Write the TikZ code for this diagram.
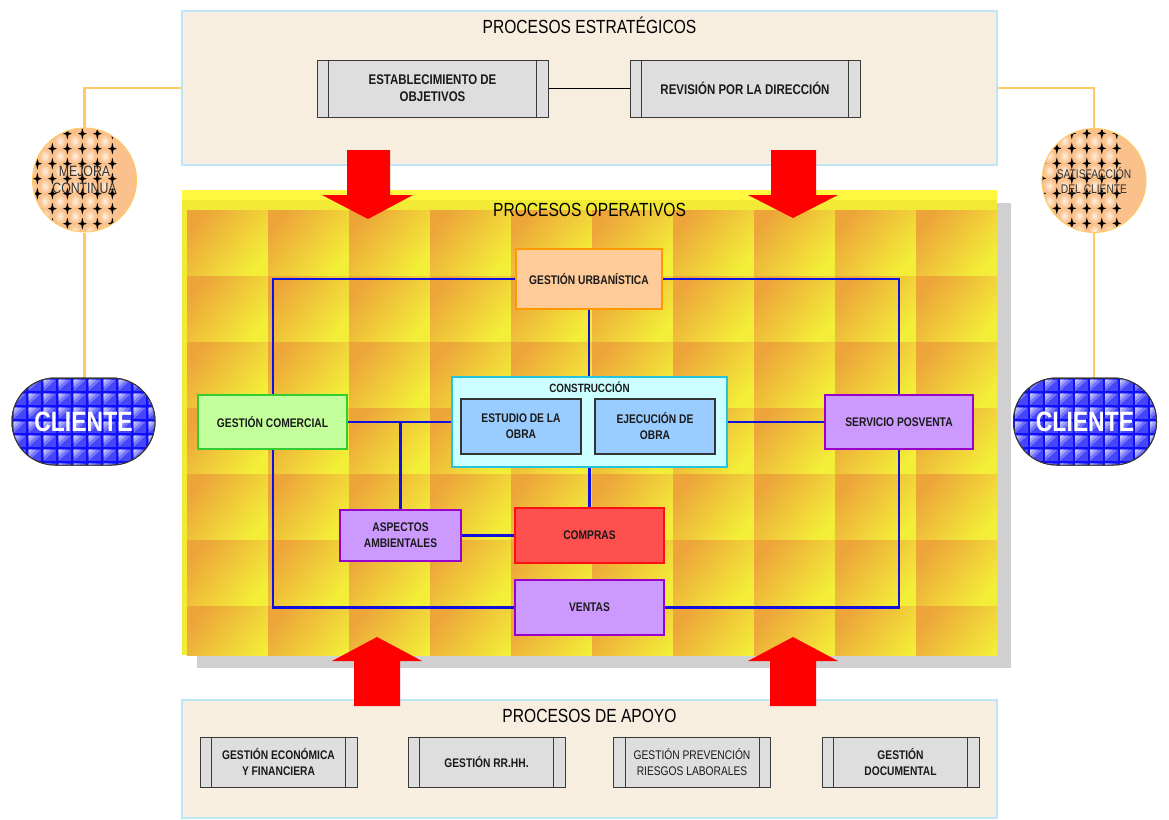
\documentclass[tikz,border=0pt]{standalone}
\usepackage{fontspec}
\setmainfont[FakeStretch=0.82]{Liberation Sans}

\definecolor{panelfill}{HTML}{F8EEE0}
\definecolor{panelline}{HTML}{BDE6F7}
\definecolor{ppfill}{HTML}{DEDEDE}
\definecolor{ppline}{HTML}{3A3A3A}
\definecolor{shadowgray}{HTML}{D0D0D0}
\definecolor{yellowbase}{HTML}{F2EB36}
\definecolor{yellowbright}{HTML}{FFF740}
\definecolor{tileA}{HTML}{EDA53A}
\definecolor{tileM}{HTML}{F0CC38}
\definecolor{tileB}{HTML}{F3EE38}
\definecolor{arrowred}{HTML}{FF0000}
\definecolor{sideorange}{HTML}{FFC966}
\definecolor{peach}{HTML}{FAC18C}
\definecolor{bubble}{HTML}{FFF1E2}
\definecolor{clblue}{HTML}{1010F8}
\definecolor{cllight}{HTML}{C8C8FF}
\definecolor{linkblue}{HTML}{1010E0}
\definecolor{guFill}{HTML}{FFCC99}
\definecolor{guLine}{HTML}{FF9900}
\definecolor{consFill}{HTML}{CCFFFF}
\definecolor{consLine}{HTML}{22C4E0}
\definecolor{obraFill}{HTML}{99CCFF}
\definecolor{obraLine}{HTML}{333333}
\definecolor{gcFill}{HTML}{C3FF9A}
\definecolor{gcLine}{HTML}{33CC33}
\definecolor{violetFill}{HTML}{CC99FF}
\definecolor{violetLine}{HTML}{9900CC}
\definecolor{coFill}{HTML}{FF5050}
\definecolor{coLine}{HTML}{FF1010}
\definecolor{textdark}{HTML}{1A1A1A}
\definecolor{textgray}{HTML}{333333}

\pgfdeclarelayer{tiles}
\pgfdeclarelayer{links}
\pgfsetlayers{tiles,links,main}

\begin{document}
\begin{tikzpicture}[x=1pt,y=-1pt,
  panel/.style={draw=panelline,line width=1.5,fill=panelfill,minimum width=815,inner sep=0},
  paneltitle/.style={font=\fontsize{19}{22}\selectfont,text=black,inner sep=0},
  ppbox/.style={rectangle,draw=ppline,line width=1,fill=ppfill,inner sep=0,align=center,
    text=textdark,font=\bfseries\fontsize{12.5}{16}\selectfont,minimum width=157,minimum height=50},
  opbox/.style={rectangle,line width=2,inner sep=0,align=center,text=textdark,
    font=\bfseries\fontsize{12.5}{16}\selectfont},
  violetbox/.style={opbox,draw=violetLine,fill=violetFill},
  obrabox/.style={opbox,line width=1.2,draw=obraLine,fill=obraFill,minimum width=120,minimum height=55},
  blueline/.style={draw=linkblue,line width=2.2},
  sideline/.style={draw=sideorange,line width=2.8},
  bigarrow/.style={fill=arrowred},
  circ/.style={circle,draw=sideorange,line width=1,fill=peach,minimum size=104,inner sep=0,
    align=center,text=textgray,
    path picture={
      \begin{scope}[shift={(path picture bounding box.center)}]
        \foreach \i in {-4,...,3} \foreach \j in {-4,...,3}
          \shade[inner color=bubble,outer color=peach] (\i*15+7.5,\j*15+7.5) ellipse (5.5 and 7);
        \foreach \i in {-4,...,4} \foreach \j in {-4,...,4}
          \fill[black] (\i*15,\j*15) +(0,-6) -- +(1.2,-1.2) -- +(4.5,0) -- +(1.2,1.2)
            -- +(0,6) -- +(-1.2,1.2) -- +(-4.5,0) -- +(-1.2,-1.2) -- cycle;
      \end{scope}}},
  cliente/.style={rectangle,rounded corners=43,draw=black!80,line width=1,fill=clblue,
    minimum width=143,minimum height=87,inner sep=0},
  clienttext/.style={text=white,inner sep=0,font=\bfseries\fontsize{28}{30}\selectfont}
]
\useasboundingbox (0,0) rectangle (1169,819);

% ---------- operational area: shadow and tiled background ----------
\begin{pgfonlayer}{tiles}
  \fill[shadowgray] (197,203) rectangle (1011,668);
  \fill[yellowbase] (182,190) rectangle (997,655);
  \fill[yellowbright] (182,190) rectangle (997,200);
  \begin{scope}
    \clip (187,210) rectangle (997,655);
    \foreach \i in {0,...,9} \foreach \j in {0,...,6}
      \shade[top color=tileA,middle color=tileM,bottom color=tileB,shading angle=50]
        (187+81*\i,210+66*\j) rectangle +(81,66);
  \end{scope}
\end{pgfonlayer}

% ---------- strategic processes ----------
\node[panel,minimum height=154] (strat) at (589.5,88) {};
\node[paneltitle] (t1) at (589.5,25) {PROCESOS ESTRATÉGICOS};
\node[ppbox,minimum width=231,minimum height=57,font=\bfseries\fontsize{14}{17}\selectfont]
  (eo) at (432.5,88.5) {ESTABLECIMIENTO DE\\OBJETIVOS};
\node[ppbox,minimum width=230,minimum height=57,font=\bfseries\fontsize{14}{17}\selectfont]
  (rd) at (745,88.5) {REVISIÓN POR LA DIRECCIÓN};
\draw[black,line width=1] (eo.east) -- (rd.west);

% ---------- support processes ----------
\node[panel,minimum height=118] (apoyo) at (589.5,759) {};
\node[paneltitle] (t3) at (589.5,716) {PROCESOS DE APOYO};
\node[ppbox] (ge) at (278.5,762) {GESTIÓN ECONÓMICA\\Y FINANCIERA};
\node[ppbox] (rh) at (486.5,762) {GESTIÓN RR.HH.};
\node[ppbox,font=\fontsize{12.5}{16}\selectfont] (pr) at (692,762) {GESTIÓN PREVENCIÓN\\RIESGOS LABORALES};
\node[ppbox] (gd) at (900.5,762) {GESTIÓN\\DOCUMENTAL};

% side bars of the predefined-process boxes
\foreach \n in {eo,rd,ge,rh,pr,gd} {
  \draw[ppline,line width=1] ([xshift=12]\n.north west) -- ([xshift=12]\n.south west);
  \draw[ppline,line width=1] ([xshift=-12]\n.north east) -- ([xshift=-12]\n.south east);
}

% ---------- operational processes ----------
\node[paneltitle] (t2) at (589.5,210) {PROCESOS OPERATIVOS};
\node[opbox,draw=guLine,fill=guFill,minimum width=146,minimum height=60] (gu) at (589,279) {GESTIÓN URBANÍSTICA};
\node[opbox,draw=consLine,fill=consFill,minimum width=275,minimum height=90] (cons) at (589.5,422) {};
\node[text=textdark,font=\bfseries\fontsize{12}{14}\selectfont,inner sep=0] (ctitle) at (589.5,387.5) {CONSTRUCCIÓN};
\node[obrabox] (eso) at (521,426.5) {ESTUDIO DE LA\\OBRA};
\node[obrabox] (eje) at (655,426.5) {EJECUCIÓN DE\\OBRA};
\node[opbox,draw=gcLine,fill=gcFill,minimum width=149,minimum height=54] (gc) at (272.5,422) {GESTIÓN COMERCIAL};
\node[violetbox,minimum width=148,minimum height=54] (sp) at (899,422) {SERVICIO POSVENTA};
\node[violetbox,minimum width=121,minimum height=51] (aa) at (400.5,535.5) {ASPECTOS\\AMBIENTALES};
\node[opbox,draw=coLine,fill=coFill,minimum width=149,minimum height=55] (co) at (589.5,535.5) {COMPRAS};
\node[violetbox,minimum width=149,minimum height=55] (ve) at (589.5,607.5) {VENTAS};
\coordinate (lx) at (273,607.5);

\begin{pgfonlayer}{links}
  \draw[blueline] (gu.west) -- (gu.west -| lx) -- (lx) -- (ve.west);
  \draw[blueline] (gu.east) -| (sp.north);
  \draw[blueline] (sp.south) |- (ve.east);
  \draw[blueline] (gu.south) -- (gu.south |- cons.north);
  \draw[blueline] (cons.south) -- (cons.south |- co.north);
  \draw[blueline] (gc.east) -- (cons.west);
  \draw[blueline] (aa.north) -- (aa.north |- gc.east);
  \draw[blueline] (aa.east) -- (co.west);
  \draw[blueline] (cons.east) -- (sp.west);
\end{pgfonlayer}

% ---------- improvement loop ----------
\node[circ,font=\fontsize{15}{17}\selectfont] (mc) at (84.5,180) {MEJORA\\CONTINUA};
\node[circ,font=\fontsize{12.5}{15}\selectfont] (sc) at (1094,180.5) {SATISFACCIÓN\\DEL CLIENTE};

% ---------- customers: blue tiled capsules ----------
\node[cliente] (clL) at (83.5,421.5) {};
\node[cliente] (clR) at (1085,421.5) {};
\foreach \x in {12,1013.5} {
  \begin{scope}
    \clip[rounded corners=43] (\x,378) rectangle +(143,87);
    \foreach \i in {0,...,9} \foreach \j in {0,...,6} {
      \fill[clblue!78!white] (\x+\i*15+1.5,378+\j*14+1.5) rectangle +(12.5,11.5);
      \fill[cllight!55!clblue] (\x+\i*15+1.5,378+\j*14+1.5) -- +(12.5,0) -- +(0,11.5) -- cycle;
      \fill[cllight!80!clblue] (\x+\i*15+1.5,378+\j*14+1.5) -- +(8,0) -- +(0,7.5) -- cycle;
      \fill[cllight] (\x+\i*15+1.5,378+\j*14+1.5) -- +(4,0) -- +(0,3.8) -- cycle;
    }
  \end{scope}
  \draw[black!80,line width=1,rounded corners=43] (\x,378) rectangle +(143,87);
}
\node[clienttext] (clLt) at (clL.center) {CLIENTE};
\node[clienttext] (clRt) at (clR.center) {CLIENTE};

\begin{pgfonlayer}{links}
  \draw[sideline] (strat.west) -- (strat.west -| mc.north) -- (mc.north);
  \draw[sideline] (mc.south) -- (mc.south |- clL.north);
  \draw[sideline] (strat.east) -- (strat.east -| sc.north) -- (sc.north);
  \draw[sideline] (sc.south) -- (sc.south |- clR.north);
\end{pgfonlayer}

% ---------- block arrows between the process levels ----------
\fill[bigarrow] (347,150) -- (390,150) -- (390,195) -- (413,195) -- (368,219) -- (322,195) -- (347,195) -- cycle;
\fill[bigarrow] (771,150) -- (816,150) -- (816,195) -- (838,195) -- (793,218) -- (748,195) -- (771,195) -- cycle;
\fill[bigarrow] (354,706) -- (400,706) -- (400,661) -- (422,661) -- (377,637) -- (332,661) -- (354,661) -- cycle;
\fill[bigarrow] (770,706) -- (816,706) -- (816,661) -- (838,661) -- (793,637) -- (748,661) -- (770,661) -- cycle;
\end{tikzpicture}
\end{document}
